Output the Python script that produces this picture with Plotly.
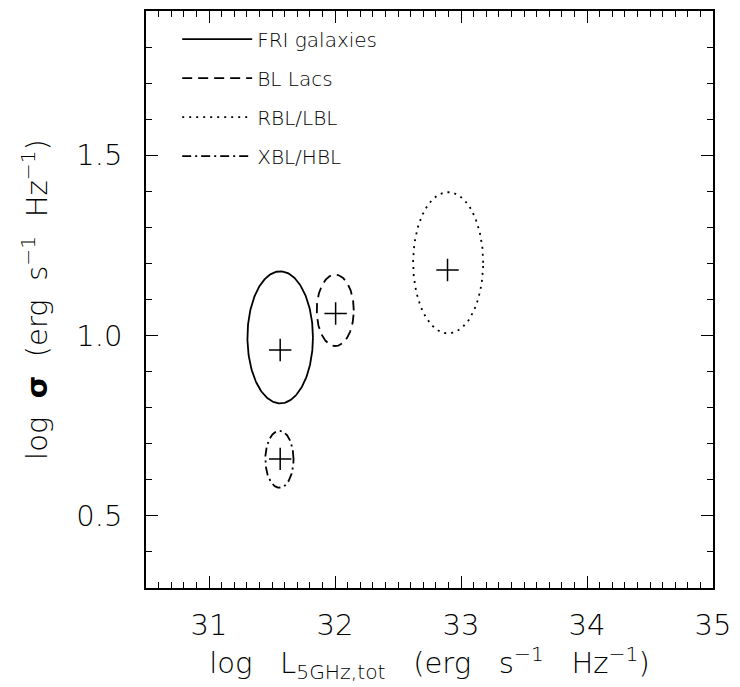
import numpy as np
import plotly.graph_objects as go

# Sample names and line styles
names = ["FRI galaxies", "BL Lacs", "RBL/LBL", "XBL/HBL"]
dashes = ["solid", "10px,6px", "2px,5px", "9px,4px,2px,4px"]

# Ellipse centres and semi-axes (log L, log sigma)
ell_x = [31.565, 32.002, 32.898, 31.559]
ell_y = [0.995, 1.070, 1.202, 0.657]
ell_ax = [0.260, 0.147, 0.278, 0.112]
ell_ay = [0.183, 0.099, 0.196, 0.079]

# Mean values marked with crosses
mean_x = [31.565, 32.005, 32.893, 31.565]
mean_y = [0.960, 1.061, 1.182, 0.658]

FAMILY = "DejaVu Sans ExtraLight, DejaVu Sans, sans-serif"
FONT = dict(family=FAMILY, color="black", size=29, weight=200)
NB = "\u00a0"

fig = go.Figure()
t = np.linspace(0, 2 * np.pi, 241)
for i, name in enumerate(names):
    fig.add_trace(go.Scatter(
        x=ell_x[i] + ell_ax[i] * np.cos(t),
        y=ell_y[i] + ell_ay[i] * np.sin(t),
        mode="lines", name=name, legendgroup=name,
        line=dict(color="black", width=1.8, dash=dashes[i]),
        hoverinfo="skip",
    ))

fig.add_trace(go.Scatter(
    x=mean_x, y=mean_y, mode="markers", showlegend=False,
    marker=dict(symbol="cross-thin", size=16, color="black",
                line=dict(color="black", width=1.5)),
))

axis_common = dict(
    showgrid=False, zeroline=False, showline=True, linecolor="black",
    linewidth=1.5, mirror="allticks", ticks="inside", tickcolor="black",
    ticklen=12, tickwidth=1.3, tickfont=FONT,
)

G2 = NB * 2
x_title = f"log{G2} L<sub>5GHz,tot</sub>{G2} (erg{G2} s<sup>−1</sup>{G2} Hz<sup>−1</sup>)"
y_title = f"log{NB} <b>σ</b>{NB} (erg{NB} s<sup>−1</sup>{NB} Hz<sup>−1</sup>)"

fig.update_layout(
    width=740, height=687,
    margin=dict(l=146, r=22, t=9, b=99),
    paper_bgcolor="white", plot_bgcolor="white",
    font=FONT,
    xaxis=dict(
        range=[30.5, 35], tickvals=[31, 32, 33, 34, 35],
        ticklabelstandoff=10,
        minor=dict(dtick=0.1, ticks="inside", ticklen=6, tickcolor="black", tickwidth=1.2),
        title=dict(text=x_title, font=dict(FONT, size=29), standoff=5),
        **axis_common,
    ),
    yaxis=dict(
        range=[0.3, 1.9], tickvals=[0.5, 1.0, 1.5], ticktext=["0.5", "1.0", "1.5"],
        ticklabelstandoff=16,
        minor=dict(dtick=0.1, ticks="inside", ticklen=6, tickcolor="black", tickwidth=1.2),
        title=dict(text=y_title, font=dict(FONT, size=29), standoff=20),
        **axis_common,
    ),
    legend=dict(
        x=0.055, y=0.985, xanchor="left", yanchor="top",
        bgcolor="rgba(0,0,0,0)", font=dict(family=FAMILY, size=20, color="black", weight=200),
        itemwidth=70, tracegroupgap=10,
    ),
    showlegend=True,
)

fig.write_html("out.html")
